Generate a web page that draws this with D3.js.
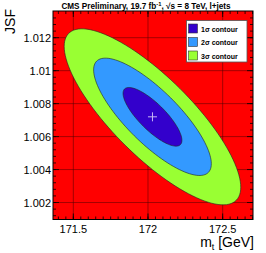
<!DOCTYPE html>
<html lang="en">
<head>
<meta charset="UTF-8">
<title>JSF vs mt contours</title>
<script src="https://d3js.org/d3.v7.min.js"></script>
<style>
  body { margin: 0; background: #fff; }
  svg { display: block; font-family: "Liberation Sans", Arial, sans-serif; }
</style>
</head>
<body>
<svg id="chart" width="266" height="253"></svg>
<script>
// fit result
const fitMt = 172.03;
const fitJsf = 1.0072;
const sigmaMt = 0.197;
const sigmaJsf = 0.00178;
const corr = -0.8;

// contours, outermost first so the inner ones sit on top
const contourLabels = ["3\u03c3 contour", "2\u03c3 contour", "1\u03c3 contour"];
const contourSigma = [3, 2, 1];
const contourColors = ["#99ff33", "#3399ff", "#3300cc"];

const xTicks = [171.5, 172, 172.5];
const yTicks = [1.002, 1.004, 1.006, 1.008, 1.01, 1.012];

const plotL = 53, plotR = 253, plotT = 11, plotB = 219.5;

const svg = d3.select("#chart");

const x = d3.scaleLinear().domain([171.364, 172.703]).range([plotL, plotR]);
const y = d3.scaleLinear().domain([1.00097, 1.01362]).range([plotB, plotT]);

// red background (outside all contours)
svg.append("rect")
  .attr("x", plotL).attr("y", plotT)
  .attr("width", plotR - plotL).attr("height", plotB - plotT)
  .attr("fill", "#ff0000");

// grid
const grid = svg.append("g").attr("stroke", "#4a0000").attr("stroke-width", 0.6).attr("stroke-opacity", 0.85);
grid.selectAll(".gx").data(xTicks).join("line")
  .attr("x1", d => x(d)).attr("x2", d => x(d))
  .attr("y1", plotT).attr("y2", plotB);
grid.selectAll(".gy").data(yTicks).join("line")
  .attr("y1", d => y(d)).attr("y2", d => y(d))
  .attr("x1", plotL).attr("x2", plotR);

// contour ellipses of a correlated gaussian
function ellipse(k) {
  const pts = d3.range(0, 360, 3).map(a => {
    const t = a * Math.PI / 180;
    const dx = k * sigmaMt * Math.cos(t);
    const dy = k * sigmaJsf * (corr * Math.cos(t) + Math.sqrt(1 - corr * corr) * Math.sin(t));
    return [x(fitMt + dx), y(fitJsf + dy)];
  });
  return d3.line().curve(d3.curveLinearClosed)(pts);
}

svg.append("g").selectAll("path")
  .data(contourSigma)
  .join("path")
  .attr("d", d => ellipse(d))
  .attr("fill", (d, i) => contourColors[i])
  .attr("stroke", "#222")
  .attr("stroke-width", 0.6);

// best fit marker
const cx = x(fitMt), cy = y(fitJsf);
svg.append("g").attr("stroke", "#c8b8f5").attr("stroke-width", 1)
  .call(g => {
    g.append("line").attr("x1", cx - 4.5).attr("x2", cx + 4.5).attr("y1", cy).attr("y2", cy);
    g.append("line").attr("x1", cx).attr("x2", cx).attr("y1", cy - 4.5).attr("y2", cy + 4.5);
  });

// ticks on all four sides
const xMinor = d3.range(171.4, 172.701, 0.05);
const yMinor = d3.range(1.0012, 1.0136, 0.0004);
const ticks = svg.append("g").attr("stroke", "#000").attr("stroke-width", 0.8);
function tickX(vals, len) {
  vals.forEach(v => {
    ticks.append("line").attr("x1", x(v)).attr("x2", x(v)).attr("y1", plotB).attr("y2", plotB - len);
    ticks.append("line").attr("x1", x(v)).attr("x2", x(v)).attr("y1", plotT).attr("y2", plotT + len);
  });
}
function tickY(vals, len) {
  vals.forEach(v => {
    ticks.append("line").attr("y1", y(v)).attr("y2", y(v)).attr("x1", plotL).attr("x2", plotL + len);
    ticks.append("line").attr("y1", y(v)).attr("y2", y(v)).attr("x1", plotR).attr("x2", plotR - len);
  });
}
tickX(xMinor, 3);
tickX(xTicks, 6);
tickY(yMinor, 3);
tickY(yTicks, 6);

// frame
svg.append("rect")
  .attr("x", plotL).attr("y", plotT)
  .attr("width", plotR - plotL).attr("height", plotB - plotT)
  .attr("fill", "none").attr("stroke", "#000").attr("stroke-width", 1);

// tick labels
svg.append("g").selectAll("text").data(xTicks).join("text")
  .attr("x", d => x(d)).attr("y", 233)
  .attr("text-anchor", "middle").attr("font-size", 11)
  .text(d => d3.format("")(d));
svg.append("g").selectAll("text").data(yTicks).join("text")
  .attr("x", 51).attr("y", d => y(d) + 4)
  .attr("text-anchor", "end").attr("font-size", 11)
  .text(d => d3.format("")(d));

// axis titles
const xt = svg.append("text").attr("x", 254).attr("y", 247)
  .attr("text-anchor", "end").attr("font-size", 14);
xt.append("tspan").text("m");
xt.append("tspan").attr("font-size", 9).attr("dy", 3).text("t");
xt.append("tspan").attr("dy", -3).text(" [GeV]");

svg.append("text")
  .attr("transform", "translate(15,9) rotate(-90)")
  .attr("text-anchor", "end").attr("font-size", 14)
  .text("JSF");

// title
const title = svg.append("text").attr("x", 146).attr("y", 9)
  .attr("text-anchor", "middle").attr("font-size", 8.2).attr("font-weight", "bold");
title.append("tspan").text("CMS Preliminary, 19.7 fb");
title.append("tspan").attr("font-size", 5.8).attr("dy", -3).text("-1");
title.append("tspan").attr("dy", 3).text(",  \u221as = 8 TeV, l+jets");

// legend
const lg = svg.append("g");
lg.append("rect").attr("x", 186.5).attr("y", 20.5).attr("width", 60.5).attr("height", 41.5)
  .attr("fill", "#fff").attr("stroke", "#555").attr("stroke-width", 0.8);
const legendOrder = [2, 1, 0];
legendOrder.forEach((idx, row) => {
  const yy = 24 + row * 13.5;
  lg.append("rect").attr("x", 188.5).attr("y", yy).attr("width", 9).attr("height", 9)
    .attr("fill", contourColors[idx]).attr("stroke", "#333").attr("stroke-width", 0.6);
  lg.append("text").attr("x", 201).attr("y", yy + 7.5)
    .attr("font-size", 7).attr("font-weight", "bold")
    .text(contourLabels[idx]);
});
</script>
</body>
</html>
